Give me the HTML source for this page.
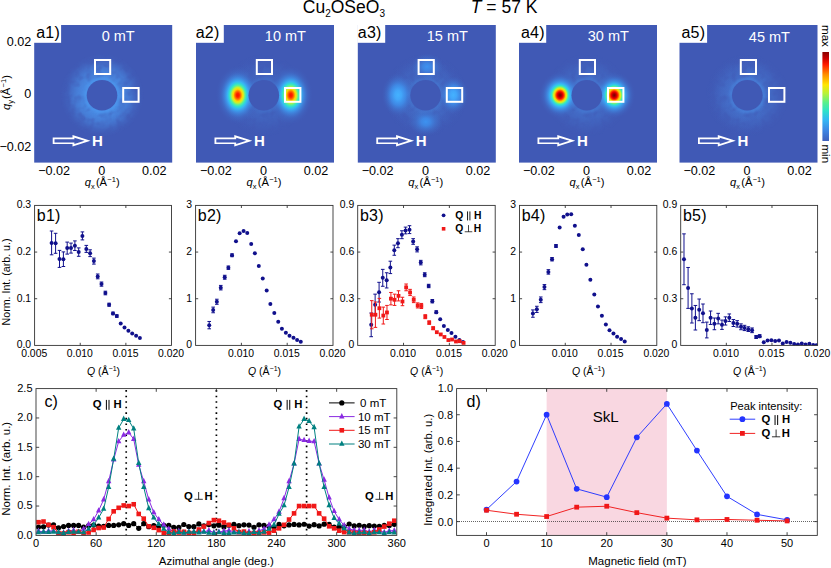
<!DOCTYPE html>
<html><head><meta charset="utf-8"><title>Cu2OSeO3 SANS figure</title>
<style>
html,body{margin:0;padding:0;background:#fff;}
body{width:831px;height:568px;overflow:hidden;font-family:"Liberation Sans", sans-serif;}
svg{display:block;font-family:"Liberation Sans", sans-serif;}
svg text{font-family:"Liberation Sans", sans-serif;}
</style></head><body>
<svg width="831" height="568" viewBox="0 0 831 568">
<defs>
<radialGradient id="hot10" cx="0.5" cy="0.5" r="0.5"><stop offset="0.0" stop-color="#f41000" stop-opacity="1"/><stop offset="0.07" stop-color="#ff2400" stop-opacity="1"/><stop offset="0.14" stop-color="#ff7a00" stop-opacity="1"/><stop offset="0.2" stop-color="#ffd800" stop-opacity="1"/><stop offset="0.26" stop-color="#c8f030" stop-opacity="1"/><stop offset="0.32" stop-color="#60f090" stop-opacity="1"/><stop offset="0.38" stop-color="#30e0d0" stop-opacity="1"/><stop offset="0.46" stop-color="#38b4f4" stop-opacity="1"/><stop offset="0.58" stop-color="#3f8fe6" stop-opacity="0.85"/><stop offset="0.75" stop-color="#4070cc" stop-opacity="0.5"/><stop offset="1.0" stop-color="#4059b5" stop-opacity="0"/></radialGradient>
<radialGradient id="hot30" cx="0.5" cy="0.5" r="0.5"><stop offset="0.0" stop-color="#7a0000" stop-opacity="1"/><stop offset="0.07" stop-color="#a80000" stop-opacity="1"/><stop offset="0.14" stop-color="#f00000" stop-opacity="1"/><stop offset="0.2" stop-color="#ff5a00" stop-opacity="1"/><stop offset="0.25" stop-color="#ffc800" stop-opacity="1"/><stop offset="0.3" stop-color="#d8f020" stop-opacity="1"/><stop offset="0.35" stop-color="#70f080" stop-opacity="1"/><stop offset="0.4" stop-color="#30e4cc" stop-opacity="1"/><stop offset="0.48" stop-color="#38b4f4" stop-opacity="1"/><stop offset="0.6" stop-color="#3f8fe6" stop-opacity="0.85"/><stop offset="0.78" stop-color="#4070cc" stop-opacity="0.45"/><stop offset="1.0" stop-color="#4059b5" stop-opacity="0"/></radialGradient>
<radialGradient id="weakA" cx="0.5" cy="0.5" r="0.5"><stop offset="0" stop-color="#44b2ff" stop-opacity="1"/><stop offset="0.2" stop-color="#42a8fc" stop-opacity="0.97"/><stop offset="0.45" stop-color="#3f92ee" stop-opacity="0.8"/><stop offset="0.75" stop-color="#4072ce" stop-opacity="0.38"/><stop offset="1" stop-color="#4059b5" stop-opacity="0"/></radialGradient>
<radialGradient id="weakB" cx="0.5" cy="0.5" r="0.5"><stop offset="0" stop-color="#3d92f0" stop-opacity="1"/><stop offset="0.25" stop-color="#3e8ae8" stop-opacity="0.9"/><stop offset="0.5" stop-color="#407cd8" stop-opacity="0.6"/><stop offset="0.8" stop-color="#406cc6" stop-opacity="0.25"/><stop offset="1" stop-color="#4059b5" stop-opacity="0"/></radialGradient>
<radialGradient id="ring1" gradientUnits="userSpaceOnUse" cx="0" cy="0" r="42"><stop offset="0.0" stop-color="#4a8ee6" stop-opacity="0.950"/><stop offset="0.35714285714285715" stop-color="#4a8ee6" stop-opacity="0.950"/><stop offset="0.42857142857142855" stop-color="#4a8ee6" stop-opacity="0.779"/><stop offset="0.5238095238095238" stop-color="#4a8ee6" stop-opacity="0.608"/><stop offset="0.6190476190476191" stop-color="#4a8ee6" stop-opacity="0.456"/><stop offset="0.7142857142857143" stop-color="#4a8ee6" stop-opacity="0.285"/><stop offset="0.8095238095238095" stop-color="#4a8ee6" stop-opacity="0.133"/><stop offset="0.9047619047619048" stop-color="#4a8ee6" stop-opacity="0.038"/><stop offset="1.0" stop-color="#4a8ee6" stop-opacity="0.000"/></radialGradient>
<radialGradient id="ring2" gradientUnits="userSpaceOnUse" cx="0" cy="0" r="42"><stop offset="0.0" stop-color="#4888e0" stop-opacity="0.220"/><stop offset="0.35714285714285715" stop-color="#4888e0" stop-opacity="0.220"/><stop offset="0.42857142857142855" stop-color="#4888e0" stop-opacity="0.180"/><stop offset="0.5238095238095238" stop-color="#4888e0" stop-opacity="0.141"/><stop offset="0.6190476190476191" stop-color="#4888e0" stop-opacity="0.106"/><stop offset="0.7142857142857143" stop-color="#4888e0" stop-opacity="0.066"/><stop offset="0.8095238095238095" stop-color="#4888e0" stop-opacity="0.031"/><stop offset="0.9047619047619048" stop-color="#4888e0" stop-opacity="0.009"/><stop offset="1.0" stop-color="#4888e0" stop-opacity="0.000"/></radialGradient>
<radialGradient id="ring3" gradientUnits="userSpaceOnUse" cx="0" cy="0" r="42"><stop offset="0.0" stop-color="#4888e0" stop-opacity="0.300"/><stop offset="0.35714285714285715" stop-color="#4888e0" stop-opacity="0.300"/><stop offset="0.42857142857142855" stop-color="#4888e0" stop-opacity="0.246"/><stop offset="0.5238095238095238" stop-color="#4888e0" stop-opacity="0.192"/><stop offset="0.6190476190476191" stop-color="#4888e0" stop-opacity="0.144"/><stop offset="0.7142857142857143" stop-color="#4888e0" stop-opacity="0.090"/><stop offset="0.8095238095238095" stop-color="#4888e0" stop-opacity="0.042"/><stop offset="0.9047619047619048" stop-color="#4888e0" stop-opacity="0.012"/><stop offset="1.0" stop-color="#4888e0" stop-opacity="0.000"/></radialGradient>
<radialGradient id="ring4" gradientUnits="userSpaceOnUse" cx="0" cy="0" r="42"><stop offset="0.0" stop-color="#4888e0" stop-opacity="0.320"/><stop offset="0.35714285714285715" stop-color="#4888e0" stop-opacity="0.320"/><stop offset="0.42857142857142855" stop-color="#4888e0" stop-opacity="0.262"/><stop offset="0.5238095238095238" stop-color="#4888e0" stop-opacity="0.205"/><stop offset="0.6190476190476191" stop-color="#4888e0" stop-opacity="0.154"/><stop offset="0.7142857142857143" stop-color="#4888e0" stop-opacity="0.096"/><stop offset="0.8095238095238095" stop-color="#4888e0" stop-opacity="0.045"/><stop offset="0.9047619047619048" stop-color="#4888e0" stop-opacity="0.013"/><stop offset="1.0" stop-color="#4888e0" stop-opacity="0.000"/></radialGradient>
<radialGradient id="ring5" gradientUnits="userSpaceOnUse" cx="0" cy="0" r="42"><stop offset="0.0" stop-color="#4a8ce4" stop-opacity="0.340"/><stop offset="0.35714285714285715" stop-color="#4a8ce4" stop-opacity="0.340"/><stop offset="0.42857142857142855" stop-color="#4a8ce4" stop-opacity="0.279"/><stop offset="0.5238095238095238" stop-color="#4a8ce4" stop-opacity="0.218"/><stop offset="0.6190476190476191" stop-color="#4a8ce4" stop-opacity="0.163"/><stop offset="0.7142857142857143" stop-color="#4a8ce4" stop-opacity="0.102"/><stop offset="0.8095238095238095" stop-color="#4a8ce4" stop-opacity="0.048"/><stop offset="0.9047619047619048" stop-color="#4a8ce4" stop-opacity="0.014"/><stop offset="1.0" stop-color="#4a8ce4" stop-opacity="0.000"/></radialGradient>
<linearGradient id="cbar" x1="0" y1="0" x2="0" y2="1"><stop offset="0" stop-color="#8a0000"/><stop offset="0.07" stop-color="#c80000"/><stop offset="0.14" stop-color="#ff1a00"/><stop offset="0.25" stop-color="#ff8a00"/><stop offset="0.37" stop-color="#ffe600"/><stop offset="0.47" stop-color="#b4f23c"/><stop offset="0.57" stop-color="#58f08c"/><stop offset="0.66" stop-color="#30e2c8"/><stop offset="0.76" stop-color="#34b8f4"/><stop offset="0.88" stop-color="#3e86e4"/><stop offset="1" stop-color="#4060bc"/></linearGradient>
<filter id="noise" x="-10%" y="-10%" width="120%" height="120%" color-interpolation-filters="sRGB"><feTurbulence type="fractalNoise" baseFrequency="0.13" numOctaves="2" seed="11" result="n"/><feColorMatrix in="n" type="matrix" values="0 0 0 0 0  0 0 0 0 0  0 0 0 0 0  2.6 1.2 0 0 -1.15" result="a"/><feComposite in="SourceGraphic" in2="a" operator="in"/></filter>
<filter id="blur1" x="-20%" y="-20%" width="140%" height="140%"><feGaussianBlur stdDeviation="0.9"/></filter>
<clipPath id="cb0"><rect x="34.6" y="205.4" width="136.9" height="139.99999999999997"/></clipPath>
<clipPath id="cb1"><rect x="195.6" y="205.4" width="137.4" height="139.99999999999997"/></clipPath>
<clipPath id="cb2"><rect x="357.7" y="205.4" width="137.5" height="139.99999999999997"/></clipPath>
<clipPath id="cb3"><rect x="519.5" y="205.4" width="137.3" height="139.99999999999997"/></clipPath>
<clipPath id="cb4"><rect x="680.7" y="205.4" width="136.9" height="139.99999999999997"/></clipPath>
<clipPath id="cc"><rect x="36.0" y="388.6" width="360.8" height="146.79999999999995"/></clipPath>
</defs>
<rect width="831" height="568" fill="#fff"/>
<text x="302.8" y="13.4" font-size="17.5">Cu<tspan font-size="10" dy="3.6">2</tspan><tspan dy="-3.6">OSeO</tspan><tspan font-size="10" dy="3.6">3</tspan></text>
<text x="470.8" y="13.4" font-size="17.5"><tspan font-style="italic">T</tspan> = 57 K</text>
<g transform="translate(34.2,25.0)">
<rect x="0" y="0" width="138.0" height="137.6" fill="#4059b5"/>
<g transform="translate(67.8,70.3)"><circle r="42" fill="url(#ring1)" opacity="0.8"/><circle r="42" fill="url(#ring1)" filter="url(#noise)" opacity="1"/></g>
<circle cx="67.8" cy="70.3" r="16.6" fill="none" stroke="#4e9af0" stroke-width="2.6" opacity="0.7" filter="url(#blur1)"/>
<circle cx="67.8" cy="70.3" r="15.3" fill="#4059b5"/>
<rect x="60.8" y="35.0" width="15.2" height="14.0" fill="none" stroke="#fff" stroke-width="2"/>
<rect x="89.0" y="63.0" width="15.4" height="13.8" fill="none" stroke="#fff" stroke-width="2"/>
<path fill-rule="evenodd" fill="#fff" d="M18.5 112.5H38.3V110L56.3 115.8L38.3 121.6V119.1H18.5Z M20.3 114.2H40.2V112.7L50.4 115.8L40.2 118.9V117.4H20.3Z"/>
<text x="57.90" y="120.90" font-size="15" text-anchor="start" font-weight="bold" fill="#fff"  >H</text>
<text x="84.00" y="15.60" font-size="14.5" text-anchor="middle" font-weight="normal" fill="#fff"  >0 mT</text>
<rect x="-0.5" y="-0.5" width="27.4" height="18.3" fill="#fff"/>
<text x="2.00" y="12.60" font-size="16" text-anchor="start" font-weight="normal" fill="#000"  letter-spacing="0.25">a1)</text>
</g>
<text x="54.10" y="174.80" font-size="12.6" text-anchor="middle" font-weight="normal" fill="#000"  >−0.02</text>
<text x="101.80" y="174.80" font-size="12.6" text-anchor="middle" font-weight="normal" fill="#000"  >0</text>
<text x="154.30" y="174.80" font-size="12.6" text-anchor="middle" font-weight="normal" fill="#000"  >0.02</text>
<text x="84.7" y="186.2" font-size="11.2"><tspan font-style="italic">q</tspan><tspan font-size="7.5" dy="2.8">x</tspan><tspan dy="-2.8" dx="1.2">(Å</tspan><tspan font-size="7.5" dy="-4.5" dx="0.3">−1</tspan><tspan dy="4.5">)</tspan></text>
<g transform="translate(196.0,25.0)">
<rect x="0" y="0" width="138.0" height="137.6" fill="#4059b5"/>
<g transform="translate(67.8,70.3)"><circle r="42" fill="url(#ring2)" opacity="0.8"/><circle r="42" fill="url(#ring2)" filter="url(#noise)" opacity="1"/></g>
<ellipse cx="41.8" cy="70.2" rx="22.5" ry="30" fill="url(#hot10)"/>
<ellipse cx="94.8" cy="70.2" rx="22.5" ry="30" fill="url(#hot10)"/>
<circle cx="67.8" cy="70.3" r="16.6" fill="none" stroke="#4e9af0" stroke-width="2.6" opacity="0.1" filter="url(#blur1)"/>
<circle cx="67.8" cy="70.3" r="15.3" fill="#4059b5"/>
<rect x="60.8" y="35.0" width="15.2" height="14.0" fill="none" stroke="#fff" stroke-width="2"/>
<rect x="89.0" y="63.0" width="15.4" height="13.8" fill="none" stroke="#fff" stroke-width="2"/>
<path fill-rule="evenodd" fill="#fff" d="M18.5 112.5H38.3V110L56.3 115.8L38.3 121.6V119.1H18.5Z M20.3 114.2H40.2V112.7L50.4 115.8L40.2 118.9V117.4H20.3Z"/>
<text x="57.90" y="120.90" font-size="15" text-anchor="start" font-weight="bold" fill="#fff"  >H</text>
<text x="89.40" y="15.80" font-size="14.5" text-anchor="middle" font-weight="normal" fill="#fff"  >10 mT</text>
<rect x="-0.5" y="-0.5" width="28.3" height="18.3" fill="#fff"/>
<text x="-0.30" y="12.60" font-size="16" text-anchor="start" font-weight="normal" fill="#000"  letter-spacing="0.25">a2)</text>
</g>
<text x="215.90" y="174.80" font-size="12.6" text-anchor="middle" font-weight="normal" fill="#000"  >−0.02</text>
<text x="263.60" y="174.80" font-size="12.6" text-anchor="middle" font-weight="normal" fill="#000"  >0</text>
<text x="316.10" y="174.80" font-size="12.6" text-anchor="middle" font-weight="normal" fill="#000"  >0.02</text>
<text x="246.5" y="186.2" font-size="11.2"><tspan font-style="italic">q</tspan><tspan font-size="7.5" dy="2.8">x</tspan><tspan dy="-2.8" dx="1.2">(Å</tspan><tspan font-size="7.5" dy="-4.5" dx="0.3">−1</tspan><tspan dy="4.5">)</tspan></text>
<g transform="translate(357.8,25.0)">
<rect x="0" y="0" width="138.0" height="137.6" fill="#4059b5"/>
<g transform="translate(67.8,70.3)"><circle r="42" fill="url(#ring3)" opacity="0.8"/><circle r="42" fill="url(#ring3)" filter="url(#noise)" opacity="1"/></g>
<ellipse cx="40.3" cy="70" rx="17" ry="23" fill="url(#weakA)"/>
<ellipse cx="95.5" cy="70" rx="16" ry="20" fill="url(#weakA)"/>
<ellipse cx="69.2" cy="41.8" rx="17" ry="14" fill="url(#weakB)"/>
<ellipse cx="68" cy="96.8" rx="18" ry="15" fill="url(#weakB)"/>
<circle cx="67.8" cy="70.3" r="16.6" fill="none" stroke="#4e9af0" stroke-width="2.6" opacity="0.14" filter="url(#blur1)"/>
<circle cx="67.8" cy="70.3" r="15.3" fill="#4059b5"/>
<rect x="60.8" y="35.0" width="15.2" height="14.0" fill="none" stroke="#fff" stroke-width="2"/>
<rect x="89.0" y="63.0" width="15.4" height="13.8" fill="none" stroke="#fff" stroke-width="2"/>
<path fill-rule="evenodd" fill="#fff" d="M18.5 112.5H38.3V110L56.3 115.8L38.3 121.6V119.1H18.5Z M20.3 114.2H40.2V112.7L50.4 115.8L40.2 118.9V117.4H20.3Z"/>
<text x="57.90" y="120.90" font-size="15" text-anchor="start" font-weight="bold" fill="#fff"  >H</text>
<text x="89.50" y="15.80" font-size="14.5" text-anchor="middle" font-weight="normal" fill="#fff"  >15 mT</text>
<rect x="-0.5" y="-0.5" width="27.9" height="18.3" fill="#fff"/>
<text x="0.00" y="12.60" font-size="16" text-anchor="start" font-weight="normal" fill="#000"  letter-spacing="0.25">a3)</text>
</g>
<text x="377.70" y="174.80" font-size="12.6" text-anchor="middle" font-weight="normal" fill="#000"  >−0.02</text>
<text x="425.40" y="174.80" font-size="12.6" text-anchor="middle" font-weight="normal" fill="#000"  >0</text>
<text x="477.90" y="174.80" font-size="12.6" text-anchor="middle" font-weight="normal" fill="#000"  >0.02</text>
<text x="408.3" y="186.2" font-size="11.2"><tspan font-style="italic">q</tspan><tspan font-size="7.5" dy="2.8">x</tspan><tspan dy="-2.8" dx="1.2">(Å</tspan><tspan font-size="7.5" dy="-4.5" dx="0.3">−1</tspan><tspan dy="4.5">)</tspan></text>
<g transform="translate(519.0,25.0)">
<rect x="0" y="0" width="138.0" height="137.6" fill="#4059b5"/>
<g transform="translate(67.8,70.3)"><circle r="42" fill="url(#ring4)" opacity="0.8"/><circle r="42" fill="url(#ring4)" filter="url(#noise)" opacity="1"/></g>
<ellipse cx="41.1" cy="70.2" rx="21.5" ry="24" fill="url(#hot30)"/>
<ellipse cx="95.2" cy="70.2" rx="21.5" ry="24" fill="url(#hot30)"/>
<circle cx="67.8" cy="70.3" r="16.6" fill="none" stroke="#4e9af0" stroke-width="2.6" opacity="0.2" filter="url(#blur1)"/>
<circle cx="67.8" cy="70.3" r="15.3" fill="#4059b5"/>
<rect x="60.8" y="35.0" width="15.2" height="14.0" fill="none" stroke="#fff" stroke-width="2"/>
<rect x="89.0" y="63.0" width="15.4" height="13.8" fill="none" stroke="#fff" stroke-width="2"/>
<path fill-rule="evenodd" fill="#fff" d="M18.5 112.5H38.3V110L56.3 115.8L38.3 121.6V119.1H18.5Z M20.3 114.2H40.2V112.7L50.4 115.8L40.2 118.9V117.4H20.3Z"/>
<text x="57.90" y="120.90" font-size="15" text-anchor="start" font-weight="bold" fill="#fff"  >H</text>
<text x="89.30" y="15.80" font-size="14.5" text-anchor="middle" font-weight="normal" fill="#fff"  >30 mT</text>
<rect x="-0.5" y="-0.5" width="27.7" height="18.3" fill="#fff"/>
<text x="1.90" y="12.60" font-size="16" text-anchor="start" font-weight="normal" fill="#000"  letter-spacing="0.25">a4)</text>
</g>
<text x="538.90" y="174.80" font-size="12.6" text-anchor="middle" font-weight="normal" fill="#000"  >−0.02</text>
<text x="586.60" y="174.80" font-size="12.6" text-anchor="middle" font-weight="normal" fill="#000"  >0</text>
<text x="639.10" y="174.80" font-size="12.6" text-anchor="middle" font-weight="normal" fill="#000"  >0.02</text>
<text x="569.5" y="186.2" font-size="11.2"><tspan font-style="italic">q</tspan><tspan font-size="7.5" dy="2.8">x</tspan><tspan dy="-2.8" dx="1.2">(Å</tspan><tspan font-size="7.5" dy="-4.5" dx="0.3">−1</tspan><tspan dy="4.5">)</tspan></text>
<g transform="translate(679.5,25.0)">
<rect x="0" y="0" width="138.0" height="137.6" fill="#4059b5"/>
<g transform="translate(67.8,70.3)"><circle r="42" fill="url(#ring5)" opacity="0.8"/><circle r="42" fill="url(#ring5)" filter="url(#noise)" opacity="1"/></g>
<circle cx="67.8" cy="70.3" r="16.6" fill="none" stroke="#4e9af0" stroke-width="2.6" opacity="0.36" filter="url(#blur1)"/>
<circle cx="67.8" cy="70.3" r="15.3" fill="#4059b5"/>
<rect x="61.3" y="35.0" width="15.2" height="14.0" fill="none" stroke="#fff" stroke-width="2"/>
<rect x="89.5" y="63.0" width="15.4" height="13.8" fill="none" stroke="#fff" stroke-width="2"/>
<path fill-rule="evenodd" fill="#fff" d="M18.5 112.5H38.3V110L56.3 115.8L38.3 121.6V119.1H18.5Z M20.3 114.2H40.2V112.7L50.4 115.8L40.2 118.9V117.4H20.3Z"/>
<text x="57.90" y="120.90" font-size="15" text-anchor="start" font-weight="bold" fill="#fff"  >H</text>
<text x="89.90" y="17.00" font-size="14.5" text-anchor="middle" font-weight="normal" fill="#fff"  >45 mT</text>
<rect x="-0.5" y="-0.5" width="28.1" height="18.3" fill="#fff"/>
<text x="1.90" y="12.60" font-size="16" text-anchor="start" font-weight="normal" fill="#000"  letter-spacing="0.25">a5)</text>
</g>
<text x="699.40" y="174.80" font-size="12.6" text-anchor="middle" font-weight="normal" fill="#000"  >−0.02</text>
<text x="747.10" y="174.80" font-size="12.6" text-anchor="middle" font-weight="normal" fill="#000"  >0</text>
<text x="799.60" y="174.80" font-size="12.6" text-anchor="middle" font-weight="normal" fill="#000"  >0.02</text>
<text x="730.0" y="186.2" font-size="11.2"><tspan font-style="italic">q</tspan><tspan font-size="7.5" dy="2.8">x</tspan><tspan dy="-2.8" dx="1.2">(Å</tspan><tspan font-size="7.5" dy="-4.5" dx="0.3">−1</tspan><tspan dy="4.5">)</tspan></text>
<text x="31.30" y="45.90" font-size="12.6" text-anchor="end" font-weight="normal" fill="#000"  >0.02</text>
<text x="31.30" y="98.30" font-size="12.6" text-anchor="end" font-weight="normal" fill="#000"  >0</text>
<text x="31.30" y="150.80" font-size="12.6" text-anchor="end" font-weight="normal" fill="#000"  >−0.02</text>
<text transform="translate(10.0,110.1) rotate(-90)" font-size="11.2"><tspan font-style="italic">q</tspan><tspan font-size="7.5" dy="2.8">y</tspan><tspan dy="-2.8" dx="1.2">(Å</tspan><tspan font-size="7.5" dy="-4.5" dx="0.3">−1</tspan><tspan dy="4.5">)</tspan></text>
<rect x="822.4" y="52" width="6.6" height="89" fill="url(#cbar)"/>
<text transform="translate(822.2,25) rotate(90)" font-size="11.6">max</text>
<text transform="translate(822.2,144.4) rotate(90)" font-size="11.6">min</text>
<g clip-path="url(#cb0)"><path d="M51.60 231.00V254.80M49.80 231.00h3.6M49.80 254.80h3.6M55.60 233.30V253.30M53.80 233.30h3.6M53.80 253.30h3.6M59.50 250.40V267.40M57.70 250.40h3.6M57.70 267.40h3.6M63.40 251.90V266.50M61.60 251.90h3.6M61.60 266.50h3.6M67.20 242.10V254.10M65.40 242.10h3.6M65.40 254.10h3.6M71.00 243.10V253.10M69.20 243.10h3.6M69.20 253.10h3.6M74.90 240.90V250.50M73.10 240.90h3.6M73.10 250.50h3.6M78.70 247.90V256.30M76.90 247.90h3.6M76.90 256.30h3.6M82.40 231.90V239.90M80.60 231.90h3.6M80.60 239.90h3.6M86.30 245.40V252.40M84.50 245.40h3.6M84.50 252.40h3.6M90.10 249.80V256.60M88.30 249.80h3.6M88.30 256.60h3.6M93.90 258.10V264.10M92.10 258.10h3.6M92.10 264.10h3.6M97.70 274.00V278.80M95.90 274.00h3.6M95.90 278.80h3.6M101.50 282.00V286.20M99.70 282.00h3.6M99.70 286.20h3.6M105.40 291.20V294.80M103.60 291.20h3.6M103.60 294.80h3.6M109.10 303.20V306.20M107.30 303.20h3.6M107.30 306.20h3.6M113.00 312.10V314.70M111.20 312.10h3.6M111.20 314.70h3.6M116.80 314.90V317.30M115.00 314.90h3.6M115.00 317.30h3.6" stroke="#10108c" stroke-width="1" fill="none"/><circle cx="51.60" cy="242.90" r="2.0" fill="#10108c"/><circle cx="55.60" cy="243.30" r="2.0" fill="#10108c"/><circle cx="59.50" cy="258.90" r="2.0" fill="#10108c"/><circle cx="63.40" cy="259.20" r="2.0" fill="#10108c"/><circle cx="67.20" cy="248.10" r="2.0" fill="#10108c"/><circle cx="71.00" cy="248.10" r="2.0" fill="#10108c"/><circle cx="74.90" cy="245.70" r="2.0" fill="#10108c"/><circle cx="78.70" cy="252.10" r="2.0" fill="#10108c"/><circle cx="82.40" cy="235.90" r="2.0" fill="#10108c"/><circle cx="86.30" cy="248.90" r="2.0" fill="#10108c"/><circle cx="90.10" cy="253.20" r="2.0" fill="#10108c"/><circle cx="93.90" cy="261.10" r="2.0" fill="#10108c"/><circle cx="97.70" cy="276.40" r="2.0" fill="#10108c"/><circle cx="101.50" cy="284.10" r="2.0" fill="#10108c"/><circle cx="105.40" cy="293.00" r="2.0" fill="#10108c"/><circle cx="109.10" cy="304.70" r="2.0" fill="#10108c"/><circle cx="113.00" cy="313.40" r="2.0" fill="#10108c"/><circle cx="116.80" cy="316.10" r="2.0" fill="#10108c"/><circle cx="120.70" cy="323.40" r="2.0" fill="#10108c"/><circle cx="124.50" cy="327.40" r="2.0" fill="#10108c"/><circle cx="128.40" cy="330.80" r="2.0" fill="#10108c"/><circle cx="132.20" cy="333.50" r="2.0" fill="#10108c"/><circle cx="136.10" cy="335.80" r="2.0" fill="#10108c"/><circle cx="139.90" cy="338.10" r="2.0" fill="#10108c"/></g>
<rect x="34.60" y="205.40" width="136.90" height="140.00" fill="none" stroke="#333" stroke-width="0.9"/>
<path d="M80.23 345.40v-2.6M80.23 205.40v2.6M125.87 345.40v-2.6M125.87 205.40v2.6M34.60 298.73h2.6M171.50 298.73h-2.6M34.60 252.07h2.6M171.50 252.07h-2.6" stroke="#333" stroke-width="0.9" fill="none"/>
<text x="34.20" y="356.70" font-size="10.4" text-anchor="middle" font-weight="normal" fill="#000"  >0.005</text>
<text x="79.83" y="356.70" font-size="10.4" text-anchor="middle" font-weight="normal" fill="#000"  >0.010</text>
<text x="125.47" y="356.70" font-size="10.4" text-anchor="middle" font-weight="normal" fill="#000"  >0.015</text>
<text x="171.10" y="356.70" font-size="10.4" text-anchor="middle" font-weight="normal" fill="#000"  >0.020</text>
<text x="31.10" y="348.40" font-size="10.4" text-anchor="end" font-weight="normal" fill="#000"  >0.0</text>
<text x="31.10" y="301.73" font-size="10.4" text-anchor="end" font-weight="normal" fill="#000"  >0.1</text>
<text x="31.10" y="255.07" font-size="10.4" text-anchor="end" font-weight="normal" fill="#000"  >0.2</text>
<text x="31.10" y="208.40" font-size="10.4" text-anchor="end" font-weight="normal" fill="#000"  >0.3</text>
<text x="36.80" y="221.20" font-size="16" text-anchor="start" font-weight="normal" fill="#000"  letter-spacing="0.25">b1)</text>
<text x="87.0" y="375.3" font-size="10.5"><tspan font-style="italic">Q</tspan> (Å<tspan font-size="7" dy="-4">−1</tspan><tspan dy="4">)</tspan></text>
<g clip-path="url(#cb1)"><path d="M209.23 321.48V328.80M207.43 321.48h3.6M207.43 328.80h3.6M213.17 307.11V312.75M211.37 307.11h3.6M211.37 312.75h3.6M216.83 299.23V304.30M215.03 299.23h3.6M215.03 304.30h3.6M220.77 285.42V289.93M218.97 285.42h3.6M218.97 289.93h3.6M224.72 275.28V279.23M222.92 275.28h3.6M222.92 279.23h3.6M228.38 265.99V269.37M226.58 265.99h3.6M226.58 269.37h3.6M232.04 253.87V256.69M230.24 253.87h3.6M230.24 256.69h3.6" stroke="#10108c" stroke-width="1" fill="none"/><circle cx="209.23" cy="325.14" r="2.0" fill="#10108c"/><circle cx="213.17" cy="309.93" r="2.0" fill="#10108c"/><circle cx="216.83" cy="301.76" r="2.0" fill="#10108c"/><circle cx="220.77" cy="287.68" r="2.0" fill="#10108c"/><circle cx="224.72" cy="277.25" r="2.0" fill="#10108c"/><circle cx="228.38" cy="267.68" r="2.0" fill="#10108c"/><circle cx="232.04" cy="255.28" r="2.0" fill="#10108c"/><circle cx="235.99" cy="241.20" r="2.0" fill="#10108c"/><circle cx="239.65" cy="233.31" r="2.0" fill="#10108c"/><circle cx="243.59" cy="231.06" r="2.0" fill="#10108c"/><circle cx="247.25" cy="233.03" r="2.0" fill="#10108c"/><circle cx="251.20" cy="244.01" r="2.0" fill="#10108c"/><circle cx="254.86" cy="253.31" r="2.0" fill="#10108c"/><circle cx="258.80" cy="265.99" r="2.0" fill="#10108c"/><circle cx="262.75" cy="278.38" r="2.0" fill="#10108c"/><circle cx="266.69" cy="290.49" r="2.0" fill="#10108c"/><circle cx="270.35" cy="304.01" r="2.0" fill="#10108c"/><circle cx="274.30" cy="313.03" r="2.0" fill="#10108c"/><circle cx="278.24" cy="321.76" r="2.0" fill="#10108c"/><circle cx="281.90" cy="328.80" r="2.0" fill="#10108c"/><circle cx="285.85" cy="332.75" r="2.0" fill="#10108c"/><circle cx="289.51" cy="335.85" r="2.0" fill="#10108c"/><circle cx="293.45" cy="337.82" r="2.0" fill="#10108c"/><circle cx="297.11" cy="340.07" r="2.0" fill="#10108c"/><circle cx="300.77" cy="341.76" r="2.0" fill="#10108c"/></g>
<rect x="195.60" y="205.40" width="137.40" height="140.00" fill="none" stroke="#333" stroke-width="0.9"/>
<path d="M241.40 345.40v-2.6M241.40 205.40v2.6M287.20 345.40v-2.6M287.20 205.40v2.6M195.60 298.73h2.6M333.00 298.73h-2.6M195.60 252.07h2.6M333.00 252.07h-2.6" stroke="#333" stroke-width="0.9" fill="none"/>
<text x="241.00" y="356.70" font-size="10.4" text-anchor="middle" font-weight="normal" fill="#000"  >0.010</text>
<text x="286.80" y="356.70" font-size="10.4" text-anchor="middle" font-weight="normal" fill="#000"  >0.015</text>
<text x="332.60" y="356.70" font-size="10.4" text-anchor="middle" font-weight="normal" fill="#000"  >0.020</text>
<text x="192.10" y="348.40" font-size="10.4" text-anchor="end" font-weight="normal" fill="#000"  >0</text>
<text x="192.10" y="301.73" font-size="10.4" text-anchor="end" font-weight="normal" fill="#000"  >1</text>
<text x="192.10" y="255.07" font-size="10.4" text-anchor="end" font-weight="normal" fill="#000"  >2</text>
<text x="192.10" y="208.40" font-size="10.4" text-anchor="end" font-weight="normal" fill="#000"  >3</text>
<text x="197.80" y="221.20" font-size="16" text-anchor="start" font-weight="normal" fill="#000"  letter-spacing="0.25">b2)</text>
<text x="248.0" y="375.3" font-size="10.5"><tspan font-style="italic">Q</tspan> (Å<tspan font-size="7" dy="-4">−1</tspan><tspan dy="4">)</tspan></text>
<g clip-path="url(#cb2)"><path d="M371.20 313.03V336.69M369.40 313.03h3.6M369.40 336.69h3.6M375.14 294.15V315.56M373.34 294.15h3.6M373.34 315.56h3.6M379.08 282.32V302.04M377.28 282.32h3.6M377.28 302.04h3.6M382.75 269.37V286.27M380.95 269.37h3.6M380.95 286.27h3.6M386.69 272.75V287.96M384.89 272.75h3.6M384.89 287.96h3.6M390.35 261.20V273.59M388.55 261.20h3.6M388.55 273.59h3.6M394.30 245.14V255.28M392.50 245.14h3.6M392.50 255.28h3.6M397.96 238.66V247.68M396.16 238.66h3.6M396.16 247.68h3.6M401.90 230.77V238.66M400.10 230.77h3.6M400.10 238.66h3.6M405.56 227.11V233.87M403.76 227.11h3.6M403.76 233.87h3.6M409.51 225.70V233.59M407.71 225.70h3.6M407.71 233.59h3.6M413.17 238.66V244.30M411.37 238.66h3.6M411.37 244.30h3.6M417.11 246.83V251.90M415.31 246.83h3.6M415.31 251.90h3.6M420.77 260.35V264.86M418.97 260.35h3.6M418.97 264.86h3.6M424.72 272.75V276.69M422.92 272.75h3.6M422.92 276.69h3.6M428.66 284.30V287.68M426.86 284.30h3.6M426.86 287.68h3.6M432.32 299.51V302.89M430.52 299.51h3.6M430.52 302.89h3.6M436.27 310.77V313.59M434.47 310.77h3.6M434.47 313.59h3.6" stroke="#10108c" stroke-width="1" fill="none"/><circle cx="371.20" cy="324.86" r="2.0" fill="#10108c"/><circle cx="375.14" cy="304.86" r="2.0" fill="#10108c"/><circle cx="379.08" cy="292.18" r="2.0" fill="#10108c"/><circle cx="382.75" cy="277.82" r="2.0" fill="#10108c"/><circle cx="386.69" cy="280.35" r="2.0" fill="#10108c"/><circle cx="390.35" cy="267.39" r="2.0" fill="#10108c"/><circle cx="394.30" cy="250.21" r="2.0" fill="#10108c"/><circle cx="397.96" cy="243.17" r="2.0" fill="#10108c"/><circle cx="401.90" cy="234.72" r="2.0" fill="#10108c"/><circle cx="405.56" cy="230.49" r="2.0" fill="#10108c"/><circle cx="409.51" cy="229.65" r="2.0" fill="#10108c"/><circle cx="413.17" cy="241.48" r="2.0" fill="#10108c"/><circle cx="417.11" cy="249.37" r="2.0" fill="#10108c"/><circle cx="420.77" cy="262.61" r="2.0" fill="#10108c"/><circle cx="424.72" cy="274.72" r="2.0" fill="#10108c"/><circle cx="428.66" cy="285.99" r="2.0" fill="#10108c"/><circle cx="432.32" cy="301.20" r="2.0" fill="#10108c"/><circle cx="436.27" cy="312.18" r="2.0" fill="#10108c"/><circle cx="440.21" cy="319.23" r="2.0" fill="#10108c"/><circle cx="443.87" cy="325.99" r="2.0" fill="#10108c"/><circle cx="447.82" cy="329.93" r="2.0" fill="#10108c"/><circle cx="451.48" cy="333.03" r="2.0" fill="#10108c"/><circle cx="455.42" cy="336.69" r="2.0" fill="#10108c"/><circle cx="459.37" cy="340.07" r="2.0" fill="#10108c"/><circle cx="463.03" cy="342.04" r="2.0" fill="#10108c"/></g>
<g clip-path="url(#cb2)"><path d="M371.76 300.63V328.80M369.96 300.63h3.6M369.96 328.80h3.6M375.42 302.04V327.39M373.62 302.04h3.6M373.62 327.39h3.6M379.37 298.38V318.10M377.57 298.38h3.6M377.57 318.10h3.6M383.31 307.11V324.01M381.51 307.11h3.6M381.51 324.01h3.6M386.97 305.42V319.51M385.17 305.42h3.6M385.17 319.51h3.6M390.92 292.46V304.86M389.12 292.46h3.6M389.12 304.86h3.6M394.58 294.15V305.42M392.78 294.15h3.6M392.78 305.42h3.6M398.52 290.77V300.92M396.72 290.77h3.6M396.72 300.92h3.6M402.46 297.25V305.70M400.66 297.25h3.6M400.66 305.70h3.6M406.13 284.01V290.77M404.33 284.01h3.6M404.33 290.77h3.6M410.07 289.37V295.56M408.27 289.37h3.6M408.27 295.56h3.6M413.73 296.97V302.61M411.93 296.97h3.6M411.93 302.61h3.6M417.68 302.89V307.96M415.88 302.89h3.6M415.88 307.96h3.6M421.34 303.45V308.52M419.54 303.45h3.6M419.54 308.52h3.6M425.28 314.72V318.66M423.48 314.72h3.6M423.48 318.66h3.6M429.23 320.92V324.30M427.43 320.92h3.6M427.43 324.30h3.6M433.17 326.83V329.65M431.37 326.83h3.6M431.37 329.65h3.6" stroke="#f01818" stroke-width="1" fill="none"/><rect x="369.86" y="312.82" width="3.8" height="3.8" fill="#f01818"/><rect x="373.52" y="312.82" width="3.8" height="3.8" fill="#f01818"/><rect x="377.47" y="306.34" width="3.8" height="3.8" fill="#f01818"/><rect x="381.41" y="313.66" width="3.8" height="3.8" fill="#f01818"/><rect x="385.07" y="310.56" width="3.8" height="3.8" fill="#f01818"/><rect x="389.02" y="296.76" width="3.8" height="3.8" fill="#f01818"/><rect x="392.68" y="297.89" width="3.8" height="3.8" fill="#f01818"/><rect x="396.62" y="293.95" width="3.8" height="3.8" fill="#f01818"/><rect x="400.56" y="299.58" width="3.8" height="3.8" fill="#f01818"/><rect x="404.23" y="285.49" width="3.8" height="3.8" fill="#f01818"/><rect x="408.17" y="290.56" width="3.8" height="3.8" fill="#f01818"/><rect x="411.83" y="297.89" width="3.8" height="3.8" fill="#f01818"/><rect x="415.78" y="303.52" width="3.8" height="3.8" fill="#f01818"/><rect x="419.44" y="304.09" width="3.8" height="3.8" fill="#f01818"/><rect x="423.38" y="314.79" width="3.8" height="3.8" fill="#f01818"/><rect x="427.33" y="320.71" width="3.8" height="3.8" fill="#f01818"/><rect x="431.27" y="326.34" width="3.8" height="3.8" fill="#f01818"/><rect x="434.93" y="330.28" width="3.8" height="3.8" fill="#f01818"/><rect x="438.87" y="332.54" width="3.8" height="3.8" fill="#f01818"/><rect x="442.54" y="335.07" width="3.8" height="3.8" fill="#f01818"/><rect x="446.48" y="338.17" width="3.8" height="3.8" fill="#f01818"/><rect x="450.14" y="337.61" width="3.8" height="3.8" fill="#f01818"/><rect x="454.09" y="339.58" width="3.8" height="3.8" fill="#f01818"/><rect x="457.75" y="339.30" width="3.8" height="3.8" fill="#f01818"/><rect x="461.69" y="340.99" width="3.8" height="3.8" fill="#f01818"/></g>
<rect x="357.70" y="205.40" width="137.50" height="140.00" fill="none" stroke="#333" stroke-width="0.9"/>
<path d="M403.53 345.40v-2.6M403.53 205.40v2.6M449.37 345.40v-2.6M449.37 205.40v2.6M357.70 298.73h2.6M495.20 298.73h-2.6M357.70 252.07h2.6M495.20 252.07h-2.6" stroke="#333" stroke-width="0.9" fill="none"/>
<text x="403.13" y="356.70" font-size="10.4" text-anchor="middle" font-weight="normal" fill="#000"  >0.010</text>
<text x="448.97" y="356.70" font-size="10.4" text-anchor="middle" font-weight="normal" fill="#000"  >0.015</text>
<text x="494.80" y="356.70" font-size="10.4" text-anchor="middle" font-weight="normal" fill="#000"  >0.020</text>
<text x="354.20" y="348.40" font-size="10.4" text-anchor="end" font-weight="normal" fill="#000"  >0</text>
<text x="354.20" y="301.73" font-size="10.4" text-anchor="end" font-weight="normal" fill="#000"  >0.3</text>
<text x="354.20" y="255.07" font-size="10.4" text-anchor="end" font-weight="normal" fill="#000"  >0.6</text>
<text x="354.20" y="208.40" font-size="10.4" text-anchor="end" font-weight="normal" fill="#000"  >0.9</text>
<text x="359.90" y="221.20" font-size="16" text-anchor="start" font-weight="normal" fill="#000"  letter-spacing="0.25">b3)</text>
<text x="410.1" y="375.3" font-size="10.5"><tspan font-style="italic">Q</tspan> (Å<tspan font-size="7" dy="-4">−1</tspan><tspan dy="4">)</tspan></text>
<g clip-path="url(#cb3)"><path d="M532.89 309.93V317.25M531.09 309.93h3.6M531.09 317.25h3.6M536.83 306.27V312.46M535.03 306.27h3.6M535.03 312.46h3.6M540.77 296.97V302.61M538.97 296.97h3.6M538.97 302.61h3.6M544.44 284.58V289.65M542.64 284.58h3.6M542.64 289.65h3.6M548.38 269.65V274.15M546.58 269.65h3.6M546.58 274.15h3.6M552.04 257.54V260.92M550.24 257.54h3.6M550.24 260.92h3.6M555.99 244.58V247.39M554.19 244.58h3.6M554.19 247.39h3.6" stroke="#10108c" stroke-width="1" fill="none"/><circle cx="532.89" cy="313.59" r="2.0" fill="#10108c"/><circle cx="536.83" cy="309.37" r="2.0" fill="#10108c"/><circle cx="540.77" cy="299.79" r="2.0" fill="#10108c"/><circle cx="544.44" cy="287.11" r="2.0" fill="#10108c"/><circle cx="548.38" cy="271.90" r="2.0" fill="#10108c"/><circle cx="552.04" cy="259.23" r="2.0" fill="#10108c"/><circle cx="555.99" cy="245.99" r="2.0" fill="#10108c"/><circle cx="559.65" cy="227.39" r="2.0" fill="#10108c"/><circle cx="563.59" cy="216.69" r="2.0" fill="#10108c"/><circle cx="567.25" cy="214.44" r="2.0" fill="#10108c"/><circle cx="571.20" cy="214.15" r="2.0" fill="#10108c"/><circle cx="574.86" cy="225.70" r="2.0" fill="#10108c"/><circle cx="578.80" cy="235.00" r="2.0" fill="#10108c"/><circle cx="582.75" cy="249.37" r="2.0" fill="#10108c"/><circle cx="586.41" cy="264.86" r="2.0" fill="#10108c"/><circle cx="590.35" cy="279.79" r="2.0" fill="#10108c"/><circle cx="594.30" cy="294.44" r="2.0" fill="#10108c"/><circle cx="597.96" cy="306.55" r="2.0" fill="#10108c"/><circle cx="601.90" cy="315.85" r="2.0" fill="#10108c"/><circle cx="605.85" cy="324.58" r="2.0" fill="#10108c"/><circle cx="609.51" cy="330.21" r="2.0" fill="#10108c"/><circle cx="613.45" cy="333.59" r="2.0" fill="#10108c"/><circle cx="617.11" cy="336.69" r="2.0" fill="#10108c"/><circle cx="621.06" cy="338.94" r="2.0" fill="#10108c"/><circle cx="624.72" cy="341.48" r="2.0" fill="#10108c"/></g>
<rect x="519.50" y="205.40" width="137.30" height="140.00" fill="none" stroke="#333" stroke-width="0.9"/>
<path d="M565.27 345.40v-2.6M565.27 205.40v2.6M611.03 345.40v-2.6M611.03 205.40v2.6M519.50 298.73h2.6M656.80 298.73h-2.6M519.50 252.07h2.6M656.80 252.07h-2.6" stroke="#333" stroke-width="0.9" fill="none"/>
<text x="564.87" y="356.70" font-size="10.4" text-anchor="middle" font-weight="normal" fill="#000"  >0.010</text>
<text x="610.63" y="356.70" font-size="10.4" text-anchor="middle" font-weight="normal" fill="#000"  >0.015</text>
<text x="656.40" y="356.70" font-size="10.4" text-anchor="middle" font-weight="normal" fill="#000"  >0.020</text>
<text x="516.00" y="348.40" font-size="10.4" text-anchor="end" font-weight="normal" fill="#000"  >0</text>
<text x="516.00" y="301.73" font-size="10.4" text-anchor="end" font-weight="normal" fill="#000"  >1</text>
<text x="516.00" y="255.07" font-size="10.4" text-anchor="end" font-weight="normal" fill="#000"  >2</text>
<text x="516.00" y="208.40" font-size="10.4" text-anchor="end" font-weight="normal" fill="#000"  >3</text>
<text x="521.70" y="221.20" font-size="16" text-anchor="start" font-weight="normal" fill="#000"  letter-spacing="0.25">b4)</text>
<text x="571.9" y="375.3" font-size="10.5"><tspan font-style="italic">Q</tspan> (Å<tspan font-size="7" dy="-4">−1</tspan><tspan dy="4">)</tspan></text>
<g clip-path="url(#cb4)"><path d="M683.99 233.87V284.71M682.19 233.87h3.6M682.19 284.71h3.6M688.09 267.47V308.38M686.29 267.47h3.6M686.29 308.38h3.6M691.88 293.77V323.00M690.08 293.77h3.6M690.08 323.00h3.6M695.39 305.46V330.01M693.59 305.46h3.6M693.59 330.01h3.6M699.19 299.03V320.66M697.39 299.03h3.6M697.39 320.66h3.6M702.99 304.00V322.70M701.19 304.00h3.6M701.19 322.70h3.6M706.79 322.12V337.90M704.99 322.12h3.6M704.99 337.90h3.6M710.59 311.01V324.46M708.79 311.01h3.6M708.79 324.46h3.6M714.39 318.03V329.72M712.59 318.03h3.6M712.59 329.72h3.6M718.19 313.35V323.87M716.39 313.35h3.6M716.39 323.87h3.6M721.98 320.07V329.42M720.18 320.07h3.6M720.18 329.42h3.6M725.49 316.86V325.04M723.69 316.86h3.6M723.69 325.04h3.6M729.29 313.94V321.53M727.49 313.94h3.6M727.49 321.53h3.6M733.38 319.49V326.50M731.58 319.49h3.6M731.58 326.50h3.6M737.18 320.66V327.09M735.38 320.66h3.6M735.38 327.09h3.6M740.98 323.87V329.72M739.18 323.87h3.6M739.18 329.72h3.6M744.49 325.33V330.59M742.69 325.33h3.6M742.69 330.59h3.6M748.28 326.79V331.47M746.48 326.79h3.6M746.48 331.47h3.6M752.08 327.96V332.64M750.28 327.96h3.6M750.28 332.64h3.6M756.17 335.56V338.48M754.37 335.56h3.6M754.37 338.48h3.6M759.68 334.68V337.61M757.88 334.68h3.6M757.88 337.61h3.6" stroke="#10108c" stroke-width="1" fill="none"/><circle cx="683.99" cy="259.29" r="2.0" fill="#10108c"/><circle cx="688.09" cy="287.93" r="2.0" fill="#10108c"/><circle cx="691.88" cy="308.38" r="2.0" fill="#10108c"/><circle cx="695.39" cy="317.74" r="2.0" fill="#10108c"/><circle cx="699.19" cy="309.85" r="2.0" fill="#10108c"/><circle cx="702.99" cy="313.35" r="2.0" fill="#10108c"/><circle cx="706.79" cy="330.01" r="2.0" fill="#10108c"/><circle cx="710.59" cy="317.74" r="2.0" fill="#10108c"/><circle cx="714.39" cy="323.87" r="2.0" fill="#10108c"/><circle cx="718.19" cy="318.61" r="2.0" fill="#10108c"/><circle cx="721.98" cy="324.75" r="2.0" fill="#10108c"/><circle cx="725.49" cy="320.95" r="2.0" fill="#10108c"/><circle cx="729.29" cy="317.74" r="2.0" fill="#10108c"/><circle cx="733.38" cy="323.00" r="2.0" fill="#10108c"/><circle cx="737.18" cy="323.87" r="2.0" fill="#10108c"/><circle cx="740.98" cy="326.79" r="2.0" fill="#10108c"/><circle cx="744.49" cy="327.96" r="2.0" fill="#10108c"/><circle cx="748.28" cy="329.13" r="2.0" fill="#10108c"/><circle cx="752.08" cy="330.30" r="2.0" fill="#10108c"/><circle cx="756.17" cy="337.02" r="2.0" fill="#10108c"/><circle cx="759.68" cy="336.15" r="2.0" fill="#10108c"/><circle cx="763.77" cy="342.28" r="2.0" fill="#10108c"/><circle cx="767.57" cy="340.53" r="2.0" fill="#10108c"/><circle cx="771.37" cy="340.24" r="2.0" fill="#10108c"/><circle cx="775.17" cy="341.11" r="2.0" fill="#10108c"/><circle cx="778.97" cy="340.53" r="2.0" fill="#10108c"/><circle cx="782.77" cy="343.45" r="2.0" fill="#10108c"/><circle cx="786.57" cy="341.99" r="2.0" fill="#10108c"/><circle cx="790.37" cy="342.87" r="2.0" fill="#10108c"/><circle cx="794.16" cy="344.04" r="2.0" fill="#10108c"/><circle cx="797.96" cy="344.62" r="2.0" fill="#10108c"/><circle cx="801.76" cy="343.45" r="2.0" fill="#10108c"/><circle cx="805.56" cy="344.62" r="2.0" fill="#10108c"/><circle cx="809.36" cy="343.74" r="2.0" fill="#10108c"/><circle cx="813.16" cy="344.91" r="2.0" fill="#10108c"/><circle cx="816.37" cy="345.20" r="2.0" fill="#10108c"/></g>
<rect x="680.70" y="205.40" width="136.90" height="140.00" fill="none" stroke="#333" stroke-width="0.9"/>
<path d="M726.33 345.40v-2.6M726.33 205.40v2.6M771.97 345.40v-2.6M771.97 205.40v2.6M680.70 298.73h2.6M817.60 298.73h-2.6M680.70 252.07h2.6M817.60 252.07h-2.6" stroke="#333" stroke-width="0.9" fill="none"/>
<text x="725.93" y="356.70" font-size="10.4" text-anchor="middle" font-weight="normal" fill="#000"  >0.010</text>
<text x="771.57" y="356.70" font-size="10.4" text-anchor="middle" font-weight="normal" fill="#000"  >0.015</text>
<text x="817.20" y="356.70" font-size="10.4" text-anchor="middle" font-weight="normal" fill="#000"  >0.020</text>
<text x="677.20" y="348.40" font-size="10.4" text-anchor="end" font-weight="normal" fill="#000"  >0</text>
<text x="677.20" y="301.73" font-size="10.4" text-anchor="end" font-weight="normal" fill="#000"  >0.3</text>
<text x="677.20" y="255.07" font-size="10.4" text-anchor="end" font-weight="normal" fill="#000"  >0.6</text>
<text x="677.20" y="208.40" font-size="10.4" text-anchor="end" font-weight="normal" fill="#000"  >0.9</text>
<text x="682.90" y="221.20" font-size="16" text-anchor="start" font-weight="normal" fill="#000"  letter-spacing="0.25">b5)</text>
<text x="733.1" y="375.3" font-size="10.5"><tspan font-style="italic">Q</tspan> (Å<tspan font-size="7" dy="-4">−1</tspan><tspan dy="4">)</tspan></text>
<text transform="translate(9.8,282.0) rotate(-90)" font-size="10.65" text-anchor="middle">Norm. Int. (arb. u.)</text>
<circle cx="443.6" cy="215.3" r="1.9" fill="#10108c"/>
<rect x="441.8" y="227.0" width="3.6" height="3.6" fill="#f01818"/>
<text x="455.20" y="218.80" font-size="10.3" text-anchor="start" font-weight="bold" fill="#000"  >Q</text>
<path d="M467.55 211.42V220.44M469.92 211.42V220.44" stroke="#000" stroke-width="0.91" fill="none"/>
<text x="473.93" y="218.80" font-size="10.3" text-anchor="start" font-weight="bold" fill="#000"  >H</text>
<text x="455.20" y="232.30" font-size="10.3" text-anchor="start" font-weight="bold" fill="#000"  >Q</text>
<path d="M464.73 231.75H472.29M468.51 231.75V225.10" stroke="#000" stroke-width="0.73" fill="none"/>
<text x="473.75" y="232.30" font-size="10.3" text-anchor="start" font-weight="bold" fill="#000"  >H</text>
<path d="M126.20 390.1V535.4" stroke="#000" stroke-width="1.7" stroke-dasharray="1.6 3.95" fill="none"/>
<path d="M216.40 390.1V535.4" stroke="#000" stroke-width="1.7" stroke-dasharray="1.6 3.95" fill="none"/>
<path d="M306.60 390.1V535.4" stroke="#000" stroke-width="1.7" stroke-dasharray="1.6 3.95" fill="none"/>
<g clip-path="url(#cc)">
<path d="M38.51 527.00L43.52 526.77L48.53 525.12L53.54 524.83L58.55 527.77L63.56 526.59L68.57 525.42L73.58 525.42L78.59 525.42L83.61 527.18L88.62 525.71L93.63 525.12L98.64 526.00L103.65 526.30L108.66 525.42L113.67 525.42L118.68 524.83L123.69 523.66L128.71 525.42L133.72 523.66L138.73 528.35L143.74 523.66L148.75 526.63L153.76 525.56L158.77 526.17L163.78 525.35L168.79 525.27L173.81 527.24L178.82 527.43L183.83 524.52L188.84 526.56L193.85 526.65L198.86 523.96L203.87 525.82L208.88 524.53L213.89 525.79L218.91 525.22L223.92 526.94L228.93 525.24L233.94 524.41L238.95 525.63L243.96 524.86L248.97 525.11L253.98 527.25L258.99 524.80L264.01 525.39L269.02 526.41L274.03 527.36L279.04 524.42L284.05 525.81L289.06 524.94L294.07 524.38L299.08 524.96L304.09 524.23L309.11 526.08L314.12 524.65L319.13 525.91L324.14 524.18L329.15 524.38L334.16 527.13L339.17 526.99L344.18 526.71L349.19 524.07L354.21 525.94L359.22 525.26L364.23 526.41L369.24 525.69L374.25 526.11L379.26 526.24L384.27 525.41L389.28 525.41L394.29 524.29" stroke="#000" stroke-width="1" fill="none"/>
<circle cx="38.51" cy="527.00" r="2.6" fill="#000"/><circle cx="43.52" cy="526.77" r="2.6" fill="#000"/><circle cx="48.53" cy="525.12" r="2.6" fill="#000"/><circle cx="53.54" cy="524.83" r="2.6" fill="#000"/><circle cx="58.55" cy="527.77" r="2.6" fill="#000"/><circle cx="63.56" cy="526.59" r="2.6" fill="#000"/><circle cx="68.57" cy="525.42" r="2.6" fill="#000"/><circle cx="73.58" cy="525.42" r="2.6" fill="#000"/><circle cx="78.59" cy="525.42" r="2.6" fill="#000"/><circle cx="83.61" cy="527.18" r="2.6" fill="#000"/><circle cx="88.62" cy="525.71" r="2.6" fill="#000"/><circle cx="93.63" cy="525.12" r="2.6" fill="#000"/><circle cx="98.64" cy="526.00" r="2.6" fill="#000"/><circle cx="103.65" cy="526.30" r="2.6" fill="#000"/><circle cx="108.66" cy="525.42" r="2.6" fill="#000"/><circle cx="113.67" cy="525.42" r="2.6" fill="#000"/><circle cx="118.68" cy="524.83" r="2.6" fill="#000"/><circle cx="123.69" cy="523.66" r="2.6" fill="#000"/><circle cx="128.71" cy="525.42" r="2.6" fill="#000"/><circle cx="133.72" cy="523.66" r="2.6" fill="#000"/><circle cx="138.73" cy="528.35" r="2.6" fill="#000"/><circle cx="143.74" cy="523.66" r="2.6" fill="#000"/><circle cx="148.75" cy="526.63" r="2.6" fill="#000"/><circle cx="153.76" cy="525.56" r="2.6" fill="#000"/><circle cx="158.77" cy="526.17" r="2.6" fill="#000"/><circle cx="163.78" cy="525.35" r="2.6" fill="#000"/><circle cx="168.79" cy="525.27" r="2.6" fill="#000"/><circle cx="173.81" cy="527.24" r="2.6" fill="#000"/><circle cx="178.82" cy="527.43" r="2.6" fill="#000"/><circle cx="183.83" cy="524.52" r="2.6" fill="#000"/><circle cx="188.84" cy="526.56" r="2.6" fill="#000"/><circle cx="193.85" cy="526.65" r="2.6" fill="#000"/><circle cx="198.86" cy="523.96" r="2.6" fill="#000"/><circle cx="203.87" cy="525.82" r="2.6" fill="#000"/><circle cx="208.88" cy="524.53" r="2.6" fill="#000"/><circle cx="213.89" cy="525.79" r="2.6" fill="#000"/><circle cx="218.91" cy="525.22" r="2.6" fill="#000"/><circle cx="223.92" cy="526.94" r="2.6" fill="#000"/><circle cx="228.93" cy="525.24" r="2.6" fill="#000"/><circle cx="233.94" cy="524.41" r="2.6" fill="#000"/><circle cx="238.95" cy="525.63" r="2.6" fill="#000"/><circle cx="243.96" cy="524.86" r="2.6" fill="#000"/><circle cx="248.97" cy="525.11" r="2.6" fill="#000"/><circle cx="253.98" cy="527.25" r="2.6" fill="#000"/><circle cx="258.99" cy="524.80" r="2.6" fill="#000"/><circle cx="264.01" cy="525.39" r="2.6" fill="#000"/><circle cx="269.02" cy="526.41" r="2.6" fill="#000"/><circle cx="274.03" cy="527.36" r="2.6" fill="#000"/><circle cx="279.04" cy="524.42" r="2.6" fill="#000"/><circle cx="284.05" cy="525.81" r="2.6" fill="#000"/><circle cx="289.06" cy="524.94" r="2.6" fill="#000"/><circle cx="294.07" cy="524.38" r="2.6" fill="#000"/><circle cx="299.08" cy="524.96" r="2.6" fill="#000"/><circle cx="304.09" cy="524.23" r="2.6" fill="#000"/><circle cx="309.11" cy="526.08" r="2.6" fill="#000"/><circle cx="314.12" cy="524.65" r="2.6" fill="#000"/><circle cx="319.13" cy="525.91" r="2.6" fill="#000"/><circle cx="324.14" cy="524.18" r="2.6" fill="#000"/><circle cx="329.15" cy="524.38" r="2.6" fill="#000"/><circle cx="334.16" cy="527.13" r="2.6" fill="#000"/><circle cx="339.17" cy="526.99" r="2.6" fill="#000"/><circle cx="344.18" cy="526.71" r="2.6" fill="#000"/><circle cx="349.19" cy="524.07" r="2.6" fill="#000"/><circle cx="354.21" cy="525.94" r="2.6" fill="#000"/><circle cx="359.22" cy="525.26" r="2.6" fill="#000"/><circle cx="364.23" cy="526.41" r="2.6" fill="#000"/><circle cx="369.24" cy="525.69" r="2.6" fill="#000"/><circle cx="374.25" cy="526.11" r="2.6" fill="#000"/><circle cx="379.26" cy="526.24" r="2.6" fill="#000"/><circle cx="384.27" cy="525.41" r="2.6" fill="#000"/><circle cx="389.28" cy="525.41" r="2.6" fill="#000"/><circle cx="394.29" cy="524.29" r="2.6" fill="#000"/>
<path d="M38.51 531.06L43.52 532.02L48.53 530.98L53.54 530.88L58.55 532.99L63.56 532.87L68.57 531.07L73.58 530.22L78.59 532.31L83.61 528.94L88.62 524.24L93.63 519.55L98.64 510.74L103.65 499.58L108.66 481.38L113.67 459.65L118.68 441.45L123.69 434.99L128.71 432.64L133.72 439.10L138.73 464.94L143.74 481.38L148.75 499.58L153.76 512.50L158.77 519.55L163.78 524.83L168.79 528.94L173.81 531.77L178.82 531.00L183.83 532.75L188.84 532.11L193.85 532.07L198.86 530.60L203.87 531.76L208.88 530.54L213.89 532.55L218.91 532.06L223.92 531.14L228.93 530.45L233.94 531.73L238.95 532.39L243.96 532.70L248.97 531.50L253.98 532.49L258.99 530.68L264.01 528.94L269.02 524.83L274.03 519.55L279.04 511.91L284.05 498.41L289.06 481.38L294.07 463.76L299.08 439.10L304.09 440.27L309.11 441.15L314.12 441.45L319.13 463.76L324.14 479.91L329.15 497.82L334.16 511.32L339.17 519.55L344.18 525.42L349.19 528.94L354.21 530.28L359.22 530.47L364.23 530.15L369.24 531.78L374.25 530.26L379.26 530.33L384.27 532.40L389.28 530.86L394.29 530.59" stroke="#8a2be2" stroke-width="1" fill="none"/>
<path d="M38.51 527.51L41.21 532.86H35.81Z" fill="#8a2be2"/><path d="M43.52 528.47L46.22 533.82H40.82Z" fill="#8a2be2"/><path d="M48.53 527.43L51.23 532.78H45.83Z" fill="#8a2be2"/><path d="M53.54 527.33L56.24 532.68H50.84Z" fill="#8a2be2"/><path d="M58.55 529.44L61.25 534.79H55.85Z" fill="#8a2be2"/><path d="M63.56 529.32L66.26 534.67H60.86Z" fill="#8a2be2"/><path d="M68.57 527.52L71.27 532.87H65.87Z" fill="#8a2be2"/><path d="M73.58 526.67L76.28 532.02H70.88Z" fill="#8a2be2"/><path d="M78.59 528.76L81.29 534.11H75.89Z" fill="#8a2be2"/><path d="M83.61 525.39L86.31 530.74H80.91Z" fill="#8a2be2"/><path d="M88.62 520.69L91.32 526.04H85.92Z" fill="#8a2be2"/><path d="M93.63 516.00L96.33 521.35H90.93Z" fill="#8a2be2"/><path d="M98.64 507.19L101.34 512.54H95.94Z" fill="#8a2be2"/><path d="M103.65 496.03L106.35 501.38H100.95Z" fill="#8a2be2"/><path d="M108.66 477.83L111.36 483.18H105.96Z" fill="#8a2be2"/><path d="M113.67 456.10L116.37 461.45H110.97Z" fill="#8a2be2"/><path d="M118.68 437.90L121.38 443.25H115.98Z" fill="#8a2be2"/><path d="M123.69 431.44L126.39 436.79H120.99Z" fill="#8a2be2"/><path d="M128.71 429.09L131.41 434.44H126.01Z" fill="#8a2be2"/><path d="M133.72 435.55L136.42 440.90H131.02Z" fill="#8a2be2"/><path d="M138.73 461.39L141.43 466.74H136.03Z" fill="#8a2be2"/><path d="M143.74 477.83L146.44 483.18H141.04Z" fill="#8a2be2"/><path d="M148.75 496.03L151.45 501.38H146.05Z" fill="#8a2be2"/><path d="M153.76 508.95L156.46 514.30H151.06Z" fill="#8a2be2"/><path d="M158.77 516.00L161.47 521.35H156.07Z" fill="#8a2be2"/><path d="M163.78 521.28L166.48 526.63H161.08Z" fill="#8a2be2"/><path d="M168.79 525.39L171.49 530.74H166.09Z" fill="#8a2be2"/><path d="M173.81 528.22L176.51 533.57H171.11Z" fill="#8a2be2"/><path d="M178.82 527.45L181.52 532.80H176.12Z" fill="#8a2be2"/><path d="M183.83 529.20L186.53 534.55H181.13Z" fill="#8a2be2"/><path d="M188.84 528.56L191.54 533.91H186.14Z" fill="#8a2be2"/><path d="M193.85 528.52L196.55 533.87H191.15Z" fill="#8a2be2"/><path d="M198.86 527.05L201.56 532.40H196.16Z" fill="#8a2be2"/><path d="M203.87 528.21L206.57 533.56H201.17Z" fill="#8a2be2"/><path d="M208.88 526.99L211.58 532.34H206.18Z" fill="#8a2be2"/><path d="M213.89 529.00L216.59 534.35H211.19Z" fill="#8a2be2"/><path d="M218.91 528.51L221.61 533.86H216.21Z" fill="#8a2be2"/><path d="M223.92 527.59L226.62 532.94H221.22Z" fill="#8a2be2"/><path d="M228.93 526.90L231.63 532.25H226.23Z" fill="#8a2be2"/><path d="M233.94 528.18L236.64 533.53H231.24Z" fill="#8a2be2"/><path d="M238.95 528.84L241.65 534.19H236.25Z" fill="#8a2be2"/><path d="M243.96 529.15L246.66 534.50H241.26Z" fill="#8a2be2"/><path d="M248.97 527.95L251.67 533.30H246.27Z" fill="#8a2be2"/><path d="M253.98 528.94L256.68 534.29H251.28Z" fill="#8a2be2"/><path d="M258.99 527.13L261.69 532.48H256.29Z" fill="#8a2be2"/><path d="M264.01 525.39L266.71 530.74H261.31Z" fill="#8a2be2"/><path d="M269.02 521.28L271.72 526.63H266.32Z" fill="#8a2be2"/><path d="M274.03 516.00L276.73 521.35H271.33Z" fill="#8a2be2"/><path d="M279.04 508.36L281.74 513.71H276.34Z" fill="#8a2be2"/><path d="M284.05 494.86L286.75 500.21H281.35Z" fill="#8a2be2"/><path d="M289.06 477.83L291.76 483.18H286.36Z" fill="#8a2be2"/><path d="M294.07 460.21L296.77 465.56H291.37Z" fill="#8a2be2"/><path d="M299.08 435.55L301.78 440.90H296.38Z" fill="#8a2be2"/><path d="M304.09 436.72L306.79 442.07H301.39Z" fill="#8a2be2"/><path d="M309.11 437.60L311.81 442.95H306.41Z" fill="#8a2be2"/><path d="M314.12 437.90L316.82 443.25H311.42Z" fill="#8a2be2"/><path d="M319.13 460.21L321.83 465.56H316.43Z" fill="#8a2be2"/><path d="M324.14 476.36L326.84 481.71H321.44Z" fill="#8a2be2"/><path d="M329.15 494.27L331.85 499.62H326.45Z" fill="#8a2be2"/><path d="M334.16 507.77L336.86 513.12H331.46Z" fill="#8a2be2"/><path d="M339.17 516.00L341.87 521.35H336.47Z" fill="#8a2be2"/><path d="M344.18 521.87L346.88 527.22H341.48Z" fill="#8a2be2"/><path d="M349.19 525.39L351.89 530.74H346.49Z" fill="#8a2be2"/><path d="M354.21 526.73L356.91 532.08H351.51Z" fill="#8a2be2"/><path d="M359.22 526.92L361.92 532.27H356.52Z" fill="#8a2be2"/><path d="M364.23 526.60L366.93 531.95H361.53Z" fill="#8a2be2"/><path d="M369.24 528.23L371.94 533.58H366.54Z" fill="#8a2be2"/><path d="M374.25 526.71L376.95 532.06H371.55Z" fill="#8a2be2"/><path d="M379.26 526.78L381.96 532.13H376.56Z" fill="#8a2be2"/><path d="M384.27 528.85L386.97 534.20H381.57Z" fill="#8a2be2"/><path d="M389.28 527.31L391.98 532.66H386.58Z" fill="#8a2be2"/><path d="M394.29 527.04L396.99 532.39H391.59Z" fill="#8a2be2"/>
<path d="M38.51 522.19L43.52 521.54L48.53 524.83L53.54 527.18L58.55 533.10L63.56 533.48L68.57 532.26L73.58 532.96L78.59 531.74L83.61 533.53L88.62 532.46L93.63 529.94L98.64 528.00L103.65 527.53L108.66 518.96L113.67 511.32L118.68 507.80L123.69 505.45L128.71 506.04L133.72 504.28L138.73 513.97L143.74 518.66L148.75 526.30L153.76 527.77L158.77 530.12L163.78 532.84L168.79 533.05L173.81 531.61L178.82 532.52L183.83 531.80L188.84 532.81L193.85 533.17L198.86 529.53L203.87 526.59L208.88 523.07L213.89 520.13L218.91 520.72L223.92 522.48L228.93 524.83L233.94 528.35L238.95 532.16L243.96 531.61L248.97 533.52L253.98 533.00L258.99 533.01L264.01 532.40L269.02 532.64L274.03 530.70L279.04 528.35L284.05 524.83L289.06 519.55L294.07 513.38L299.08 506.04L304.09 506.04L309.11 506.04L314.12 506.04L319.13 513.38L324.14 518.66L329.15 526.30L334.16 528.35L339.17 530.70L344.18 532.12L349.19 532.26L354.21 532.79L359.22 533.19L364.23 532.87L369.24 533.35L374.25 532.33L379.26 529.53L384.27 526.59L389.28 523.66L394.29 520.72" stroke="#f01818" stroke-width="1" fill="none"/>
<rect x="36.21" y="519.89" width="4.6" height="4.6" fill="#f01818"/><rect x="41.22" y="519.24" width="4.6" height="4.6" fill="#f01818"/><rect x="46.23" y="522.53" width="4.6" height="4.6" fill="#f01818"/><rect x="51.24" y="524.88" width="4.6" height="4.6" fill="#f01818"/><rect x="56.25" y="530.80" width="4.6" height="4.6" fill="#f01818"/><rect x="61.26" y="531.18" width="4.6" height="4.6" fill="#f01818"/><rect x="66.27" y="529.96" width="4.6" height="4.6" fill="#f01818"/><rect x="71.28" y="530.66" width="4.6" height="4.6" fill="#f01818"/><rect x="76.29" y="529.44" width="4.6" height="4.6" fill="#f01818"/><rect x="81.31" y="531.23" width="4.6" height="4.6" fill="#f01818"/><rect x="86.32" y="530.16" width="4.6" height="4.6" fill="#f01818"/><rect x="91.33" y="527.64" width="4.6" height="4.6" fill="#f01818"/><rect x="96.34" y="525.70" width="4.6" height="4.6" fill="#f01818"/><rect x="101.35" y="525.23" width="4.6" height="4.6" fill="#f01818"/><rect x="106.36" y="516.66" width="4.6" height="4.6" fill="#f01818"/><rect x="111.37" y="509.02" width="4.6" height="4.6" fill="#f01818"/><rect x="116.38" y="505.50" width="4.6" height="4.6" fill="#f01818"/><rect x="121.39" y="503.15" width="4.6" height="4.6" fill="#f01818"/><rect x="126.41" y="503.74" width="4.6" height="4.6" fill="#f01818"/><rect x="131.42" y="501.98" width="4.6" height="4.6" fill="#f01818"/><rect x="136.43" y="511.67" width="4.6" height="4.6" fill="#f01818"/><rect x="141.44" y="516.36" width="4.6" height="4.6" fill="#f01818"/><rect x="146.45" y="524.00" width="4.6" height="4.6" fill="#f01818"/><rect x="151.46" y="525.47" width="4.6" height="4.6" fill="#f01818"/><rect x="156.47" y="527.82" width="4.6" height="4.6" fill="#f01818"/><rect x="161.48" y="530.54" width="4.6" height="4.6" fill="#f01818"/><rect x="166.49" y="530.75" width="4.6" height="4.6" fill="#f01818"/><rect x="171.51" y="529.31" width="4.6" height="4.6" fill="#f01818"/><rect x="176.52" y="530.22" width="4.6" height="4.6" fill="#f01818"/><rect x="181.53" y="529.50" width="4.6" height="4.6" fill="#f01818"/><rect x="186.54" y="530.51" width="4.6" height="4.6" fill="#f01818"/><rect x="191.55" y="530.87" width="4.6" height="4.6" fill="#f01818"/><rect x="196.56" y="527.23" width="4.6" height="4.6" fill="#f01818"/><rect x="201.57" y="524.29" width="4.6" height="4.6" fill="#f01818"/><rect x="206.58" y="520.77" width="4.6" height="4.6" fill="#f01818"/><rect x="211.59" y="517.83" width="4.6" height="4.6" fill="#f01818"/><rect x="216.61" y="518.42" width="4.6" height="4.6" fill="#f01818"/><rect x="221.62" y="520.18" width="4.6" height="4.6" fill="#f01818"/><rect x="226.63" y="522.53" width="4.6" height="4.6" fill="#f01818"/><rect x="231.64" y="526.05" width="4.6" height="4.6" fill="#f01818"/><rect x="236.65" y="529.86" width="4.6" height="4.6" fill="#f01818"/><rect x="241.66" y="529.31" width="4.6" height="4.6" fill="#f01818"/><rect x="246.67" y="531.22" width="4.6" height="4.6" fill="#f01818"/><rect x="251.68" y="530.70" width="4.6" height="4.6" fill="#f01818"/><rect x="256.69" y="530.71" width="4.6" height="4.6" fill="#f01818"/><rect x="261.71" y="530.10" width="4.6" height="4.6" fill="#f01818"/><rect x="266.72" y="530.34" width="4.6" height="4.6" fill="#f01818"/><rect x="271.73" y="528.40" width="4.6" height="4.6" fill="#f01818"/><rect x="276.74" y="526.05" width="4.6" height="4.6" fill="#f01818"/><rect x="281.75" y="522.53" width="4.6" height="4.6" fill="#f01818"/><rect x="286.76" y="517.25" width="4.6" height="4.6" fill="#f01818"/><rect x="291.77" y="511.08" width="4.6" height="4.6" fill="#f01818"/><rect x="296.78" y="503.74" width="4.6" height="4.6" fill="#f01818"/><rect x="301.79" y="503.74" width="4.6" height="4.6" fill="#f01818"/><rect x="306.81" y="503.74" width="4.6" height="4.6" fill="#f01818"/><rect x="311.82" y="503.74" width="4.6" height="4.6" fill="#f01818"/><rect x="316.83" y="511.08" width="4.6" height="4.6" fill="#f01818"/><rect x="321.84" y="516.36" width="4.6" height="4.6" fill="#f01818"/><rect x="326.85" y="524.00" width="4.6" height="4.6" fill="#f01818"/><rect x="331.86" y="526.05" width="4.6" height="4.6" fill="#f01818"/><rect x="336.87" y="528.40" width="4.6" height="4.6" fill="#f01818"/><rect x="341.88" y="529.82" width="4.6" height="4.6" fill="#f01818"/><rect x="346.89" y="529.96" width="4.6" height="4.6" fill="#f01818"/><rect x="351.91" y="530.49" width="4.6" height="4.6" fill="#f01818"/><rect x="356.92" y="530.89" width="4.6" height="4.6" fill="#f01818"/><rect x="361.93" y="530.57" width="4.6" height="4.6" fill="#f01818"/><rect x="366.94" y="531.05" width="4.6" height="4.6" fill="#f01818"/><rect x="371.95" y="530.03" width="4.6" height="4.6" fill="#f01818"/><rect x="376.96" y="527.23" width="4.6" height="4.6" fill="#f01818"/><rect x="381.97" y="524.29" width="4.6" height="4.6" fill="#f01818"/><rect x="386.98" y="521.36" width="4.6" height="4.6" fill="#f01818"/><rect x="391.99" y="518.42" width="4.6" height="4.6" fill="#f01818"/>
<path d="M38.51 532.38L43.52 531.99L48.53 532.10L53.54 531.89L58.55 532.40L63.56 533.20L68.57 532.10L73.58 531.93L78.59 532.03L83.61 532.56L88.62 528.94L93.63 524.83L98.64 517.78L103.65 508.98L108.66 487.25L113.67 459.06L118.68 427.94L123.69 419.13L128.71 420.31L133.72 428.82L138.73 463.17L143.74 487.25L148.75 508.39L153.76 517.78L158.77 524.24L163.78 528.94L168.79 532.49L173.81 533.39L178.82 532.32L183.83 532.94L188.84 532.07L193.85 531.91L198.86 532.66L203.87 531.88L208.88 532.97L213.89 533.34L218.91 532.51L223.92 533.41L228.93 533.15L233.94 532.82L238.95 532.49L243.96 533.21L248.97 533.39L253.98 532.09L258.99 532.96L264.01 531.94L269.02 528.94L274.03 524.83L279.04 513.97L284.05 505.45L289.06 487.25L294.07 463.76L299.08 426.77L304.09 419.13L309.11 421.19L314.12 427.36L319.13 463.76L324.14 487.25L329.15 505.45L334.16 518.08L339.17 523.66L344.18 528.35L349.19 532.59L354.21 533.44L359.22 532.80L364.23 532.54L369.24 533.43L374.25 532.49L379.26 532.46L384.27 533.37L389.28 532.47L394.29 532.72" stroke="#008080" stroke-width="1" fill="none"/>
<path d="M38.51 528.83L41.21 534.18H35.81Z" fill="#008080"/><path d="M43.52 528.44L46.22 533.79H40.82Z" fill="#008080"/><path d="M48.53 528.55L51.23 533.90H45.83Z" fill="#008080"/><path d="M53.54 528.34L56.24 533.69H50.84Z" fill="#008080"/><path d="M58.55 528.85L61.25 534.20H55.85Z" fill="#008080"/><path d="M63.56 529.65L66.26 535.00H60.86Z" fill="#008080"/><path d="M68.57 528.55L71.27 533.90H65.87Z" fill="#008080"/><path d="M73.58 528.38L76.28 533.73H70.88Z" fill="#008080"/><path d="M78.59 528.48L81.29 533.83H75.89Z" fill="#008080"/><path d="M83.61 529.01L86.31 534.36H80.91Z" fill="#008080"/><path d="M88.62 525.39L91.32 530.74H85.92Z" fill="#008080"/><path d="M93.63 521.28L96.33 526.63H90.93Z" fill="#008080"/><path d="M98.64 514.23L101.34 519.58H95.94Z" fill="#008080"/><path d="M103.65 505.43L106.35 510.78H100.95Z" fill="#008080"/><path d="M108.66 483.70L111.36 489.05H105.96Z" fill="#008080"/><path d="M113.67 455.51L116.37 460.86H110.97Z" fill="#008080"/><path d="M118.68 424.39L121.38 429.74H115.98Z" fill="#008080"/><path d="M123.69 415.58L126.39 420.93H120.99Z" fill="#008080"/><path d="M128.71 416.76L131.41 422.11H126.01Z" fill="#008080"/><path d="M133.72 425.27L136.42 430.62H131.02Z" fill="#008080"/><path d="M138.73 459.62L141.43 464.97H136.03Z" fill="#008080"/><path d="M143.74 483.70L146.44 489.05H141.04Z" fill="#008080"/><path d="M148.75 504.84L151.45 510.19H146.05Z" fill="#008080"/><path d="M153.76 514.23L156.46 519.58H151.06Z" fill="#008080"/><path d="M158.77 520.69L161.47 526.04H156.07Z" fill="#008080"/><path d="M163.78 525.39L166.48 530.74H161.08Z" fill="#008080"/><path d="M168.79 528.94L171.49 534.29H166.09Z" fill="#008080"/><path d="M173.81 529.84L176.51 535.19H171.11Z" fill="#008080"/><path d="M178.82 528.77L181.52 534.12H176.12Z" fill="#008080"/><path d="M183.83 529.39L186.53 534.74H181.13Z" fill="#008080"/><path d="M188.84 528.52L191.54 533.87H186.14Z" fill="#008080"/><path d="M193.85 528.36L196.55 533.71H191.15Z" fill="#008080"/><path d="M198.86 529.11L201.56 534.46H196.16Z" fill="#008080"/><path d="M203.87 528.33L206.57 533.68H201.17Z" fill="#008080"/><path d="M208.88 529.42L211.58 534.77H206.18Z" fill="#008080"/><path d="M213.89 529.79L216.59 535.14H211.19Z" fill="#008080"/><path d="M218.91 528.96L221.61 534.31H216.21Z" fill="#008080"/><path d="M223.92 529.86L226.62 535.21H221.22Z" fill="#008080"/><path d="M228.93 529.60L231.63 534.95H226.23Z" fill="#008080"/><path d="M233.94 529.27L236.64 534.62H231.24Z" fill="#008080"/><path d="M238.95 528.94L241.65 534.29H236.25Z" fill="#008080"/><path d="M243.96 529.66L246.66 535.01H241.26Z" fill="#008080"/><path d="M248.97 529.84L251.67 535.19H246.27Z" fill="#008080"/><path d="M253.98 528.54L256.68 533.89H251.28Z" fill="#008080"/><path d="M258.99 529.41L261.69 534.76H256.29Z" fill="#008080"/><path d="M264.01 528.39L266.71 533.74H261.31Z" fill="#008080"/><path d="M269.02 525.39L271.72 530.74H266.32Z" fill="#008080"/><path d="M274.03 521.28L276.73 526.63H271.33Z" fill="#008080"/><path d="M279.04 510.42L281.74 515.77H276.34Z" fill="#008080"/><path d="M284.05 501.90L286.75 507.25H281.35Z" fill="#008080"/><path d="M289.06 483.70L291.76 489.05H286.36Z" fill="#008080"/><path d="M294.07 460.21L296.77 465.56H291.37Z" fill="#008080"/><path d="M299.08 423.22L301.78 428.57H296.38Z" fill="#008080"/><path d="M304.09 415.58L306.79 420.93H301.39Z" fill="#008080"/><path d="M309.11 417.64L311.81 422.99H306.41Z" fill="#008080"/><path d="M314.12 423.81L316.82 429.16H311.42Z" fill="#008080"/><path d="M319.13 460.21L321.83 465.56H316.43Z" fill="#008080"/><path d="M324.14 483.70L326.84 489.05H321.44Z" fill="#008080"/><path d="M329.15 501.90L331.85 507.25H326.45Z" fill="#008080"/><path d="M334.16 514.53L336.86 519.88H331.46Z" fill="#008080"/><path d="M339.17 520.11L341.87 525.46H336.47Z" fill="#008080"/><path d="M344.18 524.80L346.88 530.15H341.48Z" fill="#008080"/><path d="M349.19 529.04L351.89 534.39H346.49Z" fill="#008080"/><path d="M354.21 529.89L356.91 535.24H351.51Z" fill="#008080"/><path d="M359.22 529.25L361.92 534.60H356.52Z" fill="#008080"/><path d="M364.23 528.99L366.93 534.34H361.53Z" fill="#008080"/><path d="M369.24 529.88L371.94 535.23H366.54Z" fill="#008080"/><path d="M374.25 528.94L376.95 534.29H371.55Z" fill="#008080"/><path d="M379.26 528.91L381.96 534.26H376.56Z" fill="#008080"/><path d="M384.27 529.82L386.97 535.17H381.57Z" fill="#008080"/><path d="M389.28 528.92L391.98 534.27H386.58Z" fill="#008080"/><path d="M394.29 529.17L396.99 534.52H391.59Z" fill="#008080"/>
</g>
<rect x="36.00" y="388.60" width="360.80" height="146.80" fill="none" stroke="#333" stroke-width="0.9"/>
<path d="M96.13 535.40v-3.2M96.13 388.60v3.2M156.27 535.40v-3.2M156.27 388.60v3.2M216.40 535.40v-3.2M216.40 388.60v3.2M276.53 535.40v-3.2M276.53 388.60v3.2M336.67 535.40v-3.2M336.67 388.60v3.2M36.00 506.04h3.2M396.80 506.04h-3.2M36.00 476.68h3.2M396.80 476.68h-3.2M36.00 447.32h3.2M396.80 447.32h-3.2M36.00 417.96h3.2M396.80 417.96h-3.2" stroke="#333" stroke-width="0.9" fill="none"/>
<text x="36.00" y="546.70" font-size="11" text-anchor="middle" font-weight="normal" fill="#000"  >0</text>
<text x="96.13" y="546.70" font-size="11" text-anchor="middle" font-weight="normal" fill="#000"  >60</text>
<text x="156.27" y="546.70" font-size="11" text-anchor="middle" font-weight="normal" fill="#000"  >120</text>
<text x="216.40" y="546.70" font-size="11" text-anchor="middle" font-weight="normal" fill="#000"  >180</text>
<text x="276.53" y="546.70" font-size="11" text-anchor="middle" font-weight="normal" fill="#000"  >240</text>
<text x="336.67" y="546.70" font-size="11" text-anchor="middle" font-weight="normal" fill="#000"  >300</text>
<text x="396.80" y="546.70" font-size="11" text-anchor="middle" font-weight="normal" fill="#000"  >360</text>
<text x="32.50" y="538.70" font-size="11" text-anchor="end" font-weight="normal" fill="#000"  >0.0</text>
<text x="32.50" y="509.34" font-size="11" text-anchor="end" font-weight="normal" fill="#000"  >0.5</text>
<text x="32.50" y="479.98" font-size="11" text-anchor="end" font-weight="normal" fill="#000"  >1.0</text>
<text x="32.50" y="450.62" font-size="11" text-anchor="end" font-weight="normal" fill="#000"  >1.5</text>
<text x="32.50" y="421.26" font-size="11" text-anchor="end" font-weight="normal" fill="#000"  >2.0</text>
<text x="32.50" y="391.90" font-size="11" text-anchor="end" font-weight="normal" fill="#000"  >2.5</text>
<text transform="translate(9.8,468.8) rotate(-90)" font-size="11.5" text-anchor="middle">Norm. Int. (arb. u.)</text>
<text x="216.40" y="564.60" font-size="11.5" text-anchor="middle" font-weight="normal" fill="#000"  >Azimuthal angle (deg.)</text>
<text x="44.60" y="407.20" font-size="16" text-anchor="start" font-weight="normal" fill="#000"  >c)</text>
<text x="92.85" y="408.00" font-size="11.3" text-anchor="start" font-weight="bold" fill="#000"  >Q</text>
<path d="M106.40 399.90V409.80M109.00 399.90V409.80" stroke="#000" stroke-width="1.00" fill="none"/>
<text x="113.40" y="408.00" font-size="11.3" text-anchor="start" font-weight="bold" fill="#000"  >H</text>
<text x="273.60" y="408.00" font-size="11.3" text-anchor="start" font-weight="bold" fill="#000"  >Q</text>
<path d="M287.15 399.90V409.80M289.75 399.90V409.80" stroke="#000" stroke-width="1.00" fill="none"/>
<text x="294.15" y="408.00" font-size="11.3" text-anchor="start" font-weight="bold" fill="#000"  >H</text>
<text x="184.05" y="499.90" font-size="11.3" text-anchor="start" font-weight="bold" fill="#000"  >Q</text>
<path d="M194.50 499.30H202.80M198.65 499.30V492.00" stroke="#000" stroke-width="0.80" fill="none"/>
<text x="204.40" y="499.90" font-size="11.3" text-anchor="start" font-weight="bold" fill="#000"  >H</text>
<text x="365.00" y="499.90" font-size="11.3" text-anchor="start" font-weight="bold" fill="#000"  >Q</text>
<path d="M375.45 499.30H383.75M379.60 499.30V492.00" stroke="#000" stroke-width="0.80" fill="none"/>
<text x="385.35" y="499.90" font-size="11.3" text-anchor="start" font-weight="bold" fill="#000"  >H</text>
<path d="M329 402.90H354.6" stroke="#000" stroke-width="1"/>
<circle cx="341.80" cy="402.90" r="2.6" fill="#000"/>
<text x="360.10" y="407.00" font-size="11.5" text-anchor="start" font-weight="normal" fill="#000"  >0 mT</text>
<path d="M329 416.60H354.6" stroke="#8a2be2" stroke-width="1"/>
<path d="M341.80 413.05L344.50 418.40H339.10Z" fill="#8a2be2"/>
<text x="357.90" y="420.70" font-size="11.5" text-anchor="start" font-weight="normal" fill="#000"  >10 mT</text>
<path d="M329 430.30H354.6" stroke="#f01818" stroke-width="1"/>
<rect x="339.50" y="428.00" width="4.6" height="4.6" fill="#f01818"/>
<text x="357.90" y="434.40" font-size="11.5" text-anchor="start" font-weight="normal" fill="#000"  >15 mT</text>
<path d="M329 444.00H354.6" stroke="#008080" stroke-width="1"/>
<path d="M341.80 440.45L344.50 445.80H339.10Z" fill="#008080"/>
<text x="357.90" y="448.10" font-size="11.5" text-anchor="start" font-weight="normal" fill="#000"  >30 mT</text>
<rect x="546.62" y="388.6" width="120.24" height="146.79999999999995" fill="#f9d7e1"/>
<path d="M457.0 521.5H817.3" stroke="#222" stroke-width="0.7" stroke-dasharray="1 1"/>
<path d="M486.50 509.58L516.56 481.52L546.62 414.72L576.68 488.87L606.74 497.15L636.80 437.30L666.86 403.90L696.92 450.52L726.98 496.35L757.04 514.39L787.10 519.86" stroke="#2434ff" stroke-width="0.95" fill="none"/>
<circle cx="486.50" cy="509.58" r="2.8600000000000003" fill="#2434ff"/><circle cx="516.56" cy="481.52" r="2.8600000000000003" fill="#2434ff"/><circle cx="546.62" cy="414.72" r="2.8600000000000003" fill="#2434ff"/><circle cx="576.68" cy="488.87" r="2.8600000000000003" fill="#2434ff"/><circle cx="606.74" cy="497.15" r="2.8600000000000003" fill="#2434ff"/><circle cx="636.80" cy="437.30" r="2.8600000000000003" fill="#2434ff"/><circle cx="666.86" cy="403.90" r="2.8600000000000003" fill="#2434ff"/><circle cx="696.92" cy="450.52" r="2.8600000000000003" fill="#2434ff"/><circle cx="726.98" cy="496.35" r="2.8600000000000003" fill="#2434ff"/><circle cx="757.04" cy="514.39" r="2.8600000000000003" fill="#2434ff"/><circle cx="787.10" cy="519.86" r="2.8600000000000003" fill="#2434ff"/>
<path d="M486.50 510.24L516.56 514.25L546.62 516.52L576.68 507.17L606.74 506.24L636.80 512.65L666.86 518.13L696.92 519.86L726.98 519.46L757.04 520.26L787.10 520.93" stroke="#f01818" stroke-width="0.95" fill="none"/>
<rect x="484.11" y="507.85" width="4.784" height="4.784" fill="#f01818"/><rect x="514.17" y="511.86" width="4.784" height="4.784" fill="#f01818"/><rect x="544.23" y="514.13" width="4.784" height="4.784" fill="#f01818"/><rect x="574.29" y="504.78" width="4.784" height="4.784" fill="#f01818"/><rect x="604.35" y="503.84" width="4.784" height="4.784" fill="#f01818"/><rect x="634.41" y="510.26" width="4.784" height="4.784" fill="#f01818"/><rect x="664.47" y="515.73" width="4.784" height="4.784" fill="#f01818"/><rect x="694.53" y="517.47" width="4.784" height="4.784" fill="#f01818"/><rect x="724.59" y="517.07" width="4.784" height="4.784" fill="#f01818"/><rect x="754.65" y="517.87" width="4.784" height="4.784" fill="#f01818"/><rect x="784.71" y="518.54" width="4.784" height="4.784" fill="#f01818"/>
<rect x="456.60" y="388.60" width="360.70" height="146.80" fill="none" stroke="#333" stroke-width="0.9"/>
<path d="M486.50 535.40v-3.2M486.50 388.60v3.2M546.62 535.40v-3.2M546.62 388.60v3.2M606.74 535.40v-3.2M606.74 388.60v3.2M666.86 535.40v-3.2M666.86 388.60v3.2M726.98 535.40v-3.2M726.98 388.60v3.2M787.10 535.40v-3.2M787.10 388.60v3.2M456.60 521.60h3.2M817.30 521.60h-3.2M456.60 494.88h3.2M817.30 494.88h-3.2M456.60 468.16h3.2M817.30 468.16h-3.2M456.60 441.44h3.2M817.30 441.44h-3.2M456.60 414.72h3.2M817.30 414.72h-3.2" stroke="#333" stroke-width="0.9" fill="none"/>
<text x="486.50" y="546.90" font-size="11" text-anchor="middle" font-weight="normal" fill="#000"  >0</text>
<text x="546.62" y="546.90" font-size="11" text-anchor="middle" font-weight="normal" fill="#000"  >10</text>
<text x="606.74" y="546.90" font-size="11" text-anchor="middle" font-weight="normal" fill="#000"  >20</text>
<text x="666.86" y="546.90" font-size="11" text-anchor="middle" font-weight="normal" fill="#000"  >30</text>
<text x="726.98" y="546.90" font-size="11" text-anchor="middle" font-weight="normal" fill="#000"  >40</text>
<text x="787.10" y="546.90" font-size="11" text-anchor="middle" font-weight="normal" fill="#000"  >50</text>
<text x="453.00" y="525.60" font-size="11" text-anchor="end" font-weight="normal" fill="#000"  >0.0</text>
<text x="453.00" y="498.88" font-size="11" text-anchor="end" font-weight="normal" fill="#000"  >0.2</text>
<text x="453.00" y="472.16" font-size="11" text-anchor="end" font-weight="normal" fill="#000"  >0.4</text>
<text x="453.00" y="445.44" font-size="11" text-anchor="end" font-weight="normal" fill="#000"  >0.6</text>
<text x="453.00" y="418.72" font-size="11" text-anchor="end" font-weight="normal" fill="#000"  >0.8</text>
<text x="453.00" y="392.00" font-size="11" text-anchor="end" font-weight="normal" fill="#000"  >1.0</text>
<text transform="translate(431.5,469.8) rotate(-90)" font-size="11.25" text-anchor="middle">Integrated Int. (arb. u.)</text>
<text x="637.50" y="564.60" font-size="11.5" text-anchor="middle" font-weight="normal" fill="#000"  >Magnetic field (mT)</text>
<text x="466.60" y="406.80" font-size="16" text-anchor="start" font-weight="normal" fill="#000"  >d)</text>
<text x="592.70" y="421.50" font-size="15.1" text-anchor="start" font-weight="normal" fill="#000"  >SkL</text>
<text x="730.20" y="409.60" font-size="11.1" text-anchor="start" font-weight="normal" fill="#000"  >Peak intensity:</text>
<path d="M729.7 419.20H755.2" stroke="#2434ff" stroke-width="0.95"/>
<circle cx="742.40" cy="419.20" r="2.8600000000000003" fill="#2434ff"/>
<text x="761.50" y="423.20" font-size="11.3" text-anchor="start" font-weight="bold" fill="#000"  >Q</text>
<path d="M775.05 415.10V425.00M777.65 415.10V425.00" stroke="#000" stroke-width="1.00" fill="none"/>
<text x="782.05" y="423.20" font-size="11.3" text-anchor="start" font-weight="bold" fill="#000"  >H</text>
<path d="M729.7 433.40H755.2" stroke="#f01818" stroke-width="0.95"/>
<rect x="740.01" y="431.01" width="4.784" height="4.784" fill="#f01818"/>
<text x="761.50" y="437.40" font-size="11.3" text-anchor="start" font-weight="bold" fill="#000"  >Q</text>
<path d="M771.95 436.80H780.25M776.10 436.80V429.50" stroke="#000" stroke-width="0.80" fill="none"/>
<text x="781.85" y="437.40" font-size="11.3" text-anchor="start" font-weight="bold" fill="#000"  >H</text>
</svg>
</body></html>
